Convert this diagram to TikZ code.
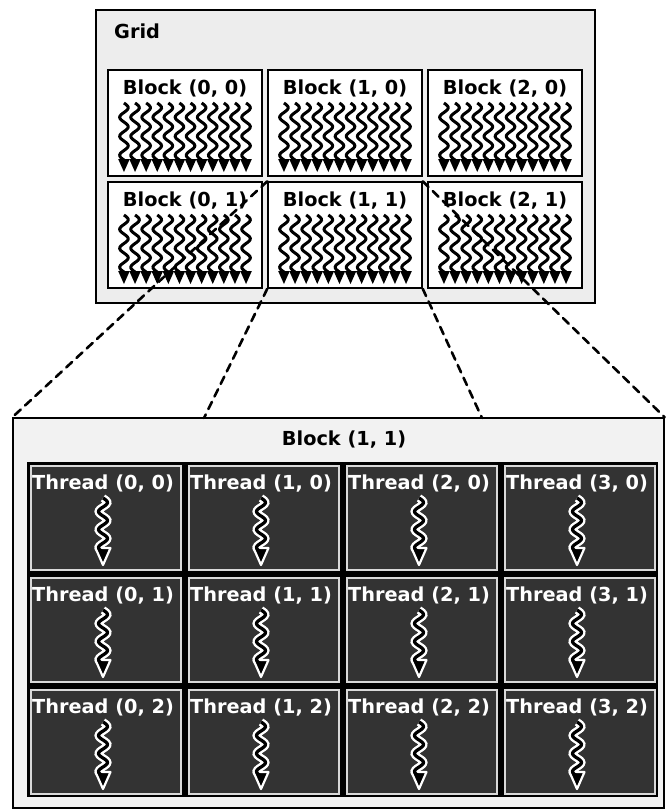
\documentclass[tikz,border=0pt]{standalone}
\usepackage{fontspec}
\setmainfont{DejaVu Sans}
\usetikzlibrary{positioning}

\tikzset{
  gridbox/.style={draw=black, line width=1.4pt, fill=black!7, inner sep=0pt},
  blockbox/.style={draw=black, line width=1.4pt, fill=white, minimum width=154pt, minimum height=106pt, inner sep=0pt},
  cellbox/.style={draw=black!15, line width=1.2pt, fill=black!80, minimum width=150pt, minimum height=104pt, inner sep=0pt},
  boldlbl/.style={font=\fontsize{19.3}{21}\selectfont\bfseries, inner sep=0pt},
  zoomline/.style={dash pattern=on 8pt off 6pt, line width=2.6pt, line cap=round},
}

\begin{document}
\begin{tikzpicture}[x=1pt, y=-1pt]
  \useasboundingbox (0,0) rectangle (666,811);

  % grid of blocks
  \node[gridbox, minimum width=499pt, minimum height=293pt] (grid) at (345.5,156.5) {};
  \node[boldlbl, anchor=west] (gridlbl) at (114,31) {Grid};
  \foreach \c in {0,1,2} {
    \foreach \r in {0,1} {
      \node[blockbox] (b\c\r) at (185+160*\c, 123+112*\r) {};
      \node[boldlbl] (bl\c\r) at (185+160*\c, 89+112*\r) {Block (\c, \r)};
      \foreach \i in {1,...,12} {
        \pgfmathsetmacro{\cx}{185+160*\c+(\i-6.5)*11.1}
        \pgfmathsetmacro{\ty}{103+112*\r}
        \draw[line width=3pt] plot[domain=0:57, samples=45, smooth]
          ({\cx+4.3*sin(\x*18.947)}, {\ty+\x});
        \fill (\cx-5.8,\ty+56) -- (\cx+5.8,\ty+56) -- (\cx,\ty+69) -- cycle;
      }
    }
  }

  % enlarged block
  \node[gridbox, fill=black!5, minimum width=651pt, minimum height=390pt] (big) at (338.5,613) {};
  \node[boldlbl] (biglbl) at (344,440) {Block (1, 1)};
  \node[fill=black, minimum width=631pt, minimum height=335pt, inner sep=0pt] (threads) at (342.5,629.5) {};
  \foreach \i in {0,...,3} {
    \foreach \j in {0,1,2} {
      \node[cellbox] (t\i\j) at (106+158*\i, 518+112*\j) {};
      \node[boldlbl, text=white, anchor=west] (tl\i\j) at (32+158*\i, 484+112*\j) {Thread (\i, \j)};
      \pgfmathsetmacro{\cx}{103+158*\i}
      \pgfmathsetmacro{\ty}{498+112*\j}
      \draw[white, line width=8pt] plot[domain=0:54, samples=45, smooth]
        ({\cx+4.5*sin(\x*20)}, {\ty+\x});
      \filldraw[fill=black, draw=white, line width=2.2pt, line join=round]
        (\cx-7.5,\ty+50) -- (\cx+7.5,\ty+50) -- (\cx,\ty+67) -- cycle;
      \draw[line width=3.2pt] plot[domain=0:54, samples=45, smooth]
        ({\cx+4.5*sin(\x*20)}, {\ty+\x});
    }
  }

  % zoom lines
  \coordinate (zp2) at (204,418);
  \coordinate (zp3) at (482,418);
  \draw[zoomline] (b11.north west) -- (big.north west);
  \draw[zoomline] (b11.south west) -- (zp2);
  \draw[zoomline] (b11.south east) -- (zp3);
  \draw[zoomline] (b11.north east) -- (big.north east);
\end{tikzpicture}
\end{document}
